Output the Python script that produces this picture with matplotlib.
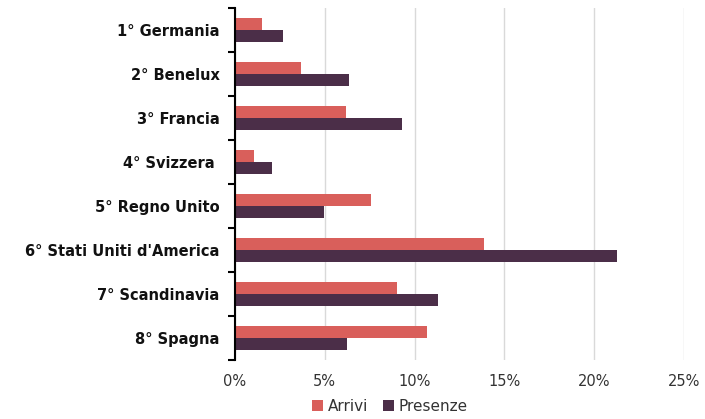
import matplotlib
matplotlib.use("Agg")
import matplotlib.pyplot as plt
import numpy as np
from matplotlib.ticker import FuncFormatter, FixedLocator

categories = ["1° Germania", "2° Benelux", "3° Francia", "4° Svizzera ",
              "5° Regno Unito", "6° Stati Uniti d'America", "7° Scandinavia", "8° Spagna"]
arrivi = [1.52, 3.66, 6.17, 1.04, 7.56, 13.88, 9.03, 10.67]
presenze = [2.68, 6.32, 9.29, 2.06, 4.98, 21.26, 11.32, 6.21]
xticks = [0, 5, 10, 15, 20, 25]

c_arr = "#D95F5B"
c_pre = "#4B2E48"

plt.rcParams['font.family'] = ['DejaVu Sans']

fig = plt.figure(figsize=(7.05, 4.19), dpi=100)
ax = fig.add_axes([235/705, 1-360/419, (684-235)/705, 352/419])

n = len(categories)
y = np.arange(n)
h = 0.265
ax.barh(y - h/2, arrivi, height=h, color=c_arr, label="Arrivi", zorder=3)
ax.barh(y + h/2, presenze, height=h, color=c_pre, label="Presenze", zorder=3)

ax.set_ylim(n - 0.5, -0.5)
ax.set_xlim(0, 25)
ax.set_xticks(xticks)
ax.xaxis.set_major_formatter(FuncFormatter(lambda v, p: f"{v:.0f}%"))
ax.grid(axis='x', color='#D9D9D9', linewidth=1, zorder=0)

ax.yaxis.set_major_locator(FixedLocator(np.arange(-0.5, n, 1.0)))
ax.yaxis.set_major_formatter(FuncFormatter(lambda v, p: ""))
ax.yaxis.set_minor_locator(FixedLocator(y))
ax.set_yticklabels(categories, minor=True, fontsize=10.5, fontweight='bold', color='#111111')
ax.tick_params(axis='y', which='major', length=5, width=1.5, color='black', direction='out')
ax.tick_params(axis='y', which='minor', length=0, pad=11)
ax.tick_params(axis='x', length=0, labelsize=10.5, labelcolor='#333333', pad=10)

for s in ['top', 'right', 'bottom']:
    ax.spines[s].set_visible(False)
ax.spines['left'].set_linewidth(1.5)
ax.spines['left'].set_color('black')
ax.spines['left'].set_zorder(4)

fig.legend(loc='center', bbox_to_anchor=(390/705, 1-406/419), ncol=2, frameon=False,
           fontsize=11, handlelength=0.7, handleheight=0.7, handletextpad=0.3,
           columnspacing=1.0, labelcolor='#333333')

fig.savefig("out.png", dpi=100)
